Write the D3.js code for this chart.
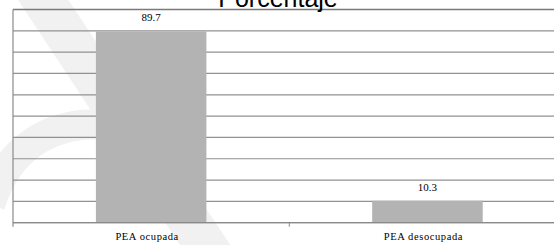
<!DOCTYPE html>
<html>
<head>
<meta charset="utf-8">
<script src="https://cdn.jsdelivr.net/npm/d3@7"></script>
<style>
  body { margin: 0; background: #fff; }
  svg { display: block; }
</style>
</head>
<body>
<svg id="chart"></svg>
<script>
// chart data
const categories = ["PEA ocupada", "PEA desocupada"];
const values = [89.7, 10.3];
const yTicks = [0, 10, 20, 30, 40, 50, 60, 70, 80, 90, 100];
const title = "Porcentaje";

const width = 554, height = 245;
// plot runs past the right edge of the picture, like the original
const plot = { left: 13, right: 565.6, top: 9.5, bottom: 222.7 };

const svg = d3.select("#chart")
  .attr("width", width)
  .attr("height", height);

// faint watermark in the background
const wm = svg.append("g").attr("fill", "none").attr("stroke", "#f1f1f1");
wm.append("path")
  .attr("d", "M30,-20 L215,260")
  .attr("stroke-width", 42);
wm.append("path")
  .attr("d", "M-10,205 C10,140 60,120 110,125")
  .attr("stroke-width", 30);

const x = d3.scaleBand()
  .domain(categories)
  .range([plot.left, plot.right])
  .paddingInner(0.6)
  .paddingOuter(0.3);

const y = d3.scaleLinear()
  .domain([0, 100])
  .range([plot.bottom, plot.top]);

// horizontal gridlines
svg.append("g")
  .selectAll("line")
  .data(yTicks)
  .join("line")
  .attr("x1", plot.left)
  .attr("x2", width)
  .attr("y1", d => y(d))
  .attr("y2", d => y(d))
  .attr("stroke", d => d === 100 ? "#7a7a7a" : "#919191")
  .attr("stroke-width", d => d === 100 ? 1.4 : 1.2);

// bars
svg.append("g")
  .selectAll("rect")
  .data(values)
  .join("rect")
  .attr("x", (d, i) => x(categories[i]))
  .attr("y", d => y(d))
  .attr("width", x.bandwidth())
  .attr("height", d => y(0) - y(d))
  .attr("fill", "#b3b3b3");

// value labels
svg.append("g")
  .selectAll("text")
  .data(values)
  .join("text")
  .attr("x", (d, i) => x(categories[i]) + x.bandwidth() / 2)
  .attr("y", d => y(d) - 10)
  .attr("text-anchor", "middle")
  .attr("font-family", "'Liberation Serif', 'Times New Roman', serif")
  .attr("font-size", 11)
  .attr("fill", "#000")
  .text(d => d.toFixed(1));

// axes: left line and bottom line with category boundary ticks
svg.append("line")
  .attr("x1", plot.left).attr("x2", plot.left)
  .attr("y1", plot.top).attr("y2", plot.bottom + 4)
  .attr("stroke", "#8a8a8a").attr("stroke-width", 1.2);

svg.append("line")
  .attr("x1", plot.left).attr("x2", width)
  .attr("y1", y(0)).attr("y2", y(0))
  .attr("stroke", "#8a8a8a").attr("stroke-width", 1.2);

svg.append("g")
  .selectAll("line")
  .data(categories.slice(1))
  .join("line")
  .attr("x1", d => x(d) - x.step() * x.paddingInner() / 2)
  .attr("x2", d => x(d) - x.step() * x.paddingInner() / 2)
  .attr("y1", plot.bottom)
  .attr("y2", plot.bottom + 4)
  .attr("stroke", "#8a8a8a");

// category labels
svg.append("g")
  .selectAll("text")
  .data(categories)
  .join("text")
  .attr("x", d => x(d) + x.bandwidth() / 2 - 4)
  .attr("y", plot.bottom + 17)
  .attr("text-anchor", "middle")
  .attr("font-family", "'Liberation Serif', 'Times New Roman', serif")
  .attr("font-size", 10.5)
  .attr("letter-spacing", 0.6)
  .attr("fill", "#000")
  .text(d => d);

// title, cut off at the top like the original
svg.append("text")
  .attr("x", 278)
  .attr("y", 7)
  .attr("text-anchor", "middle")
  .attr("font-family", "'Liberation Sans', Arial, sans-serif")
  .attr("font-size", 25)
  .attr("fill", "#000")
  .text(title);
</script>
</body>
</html>
